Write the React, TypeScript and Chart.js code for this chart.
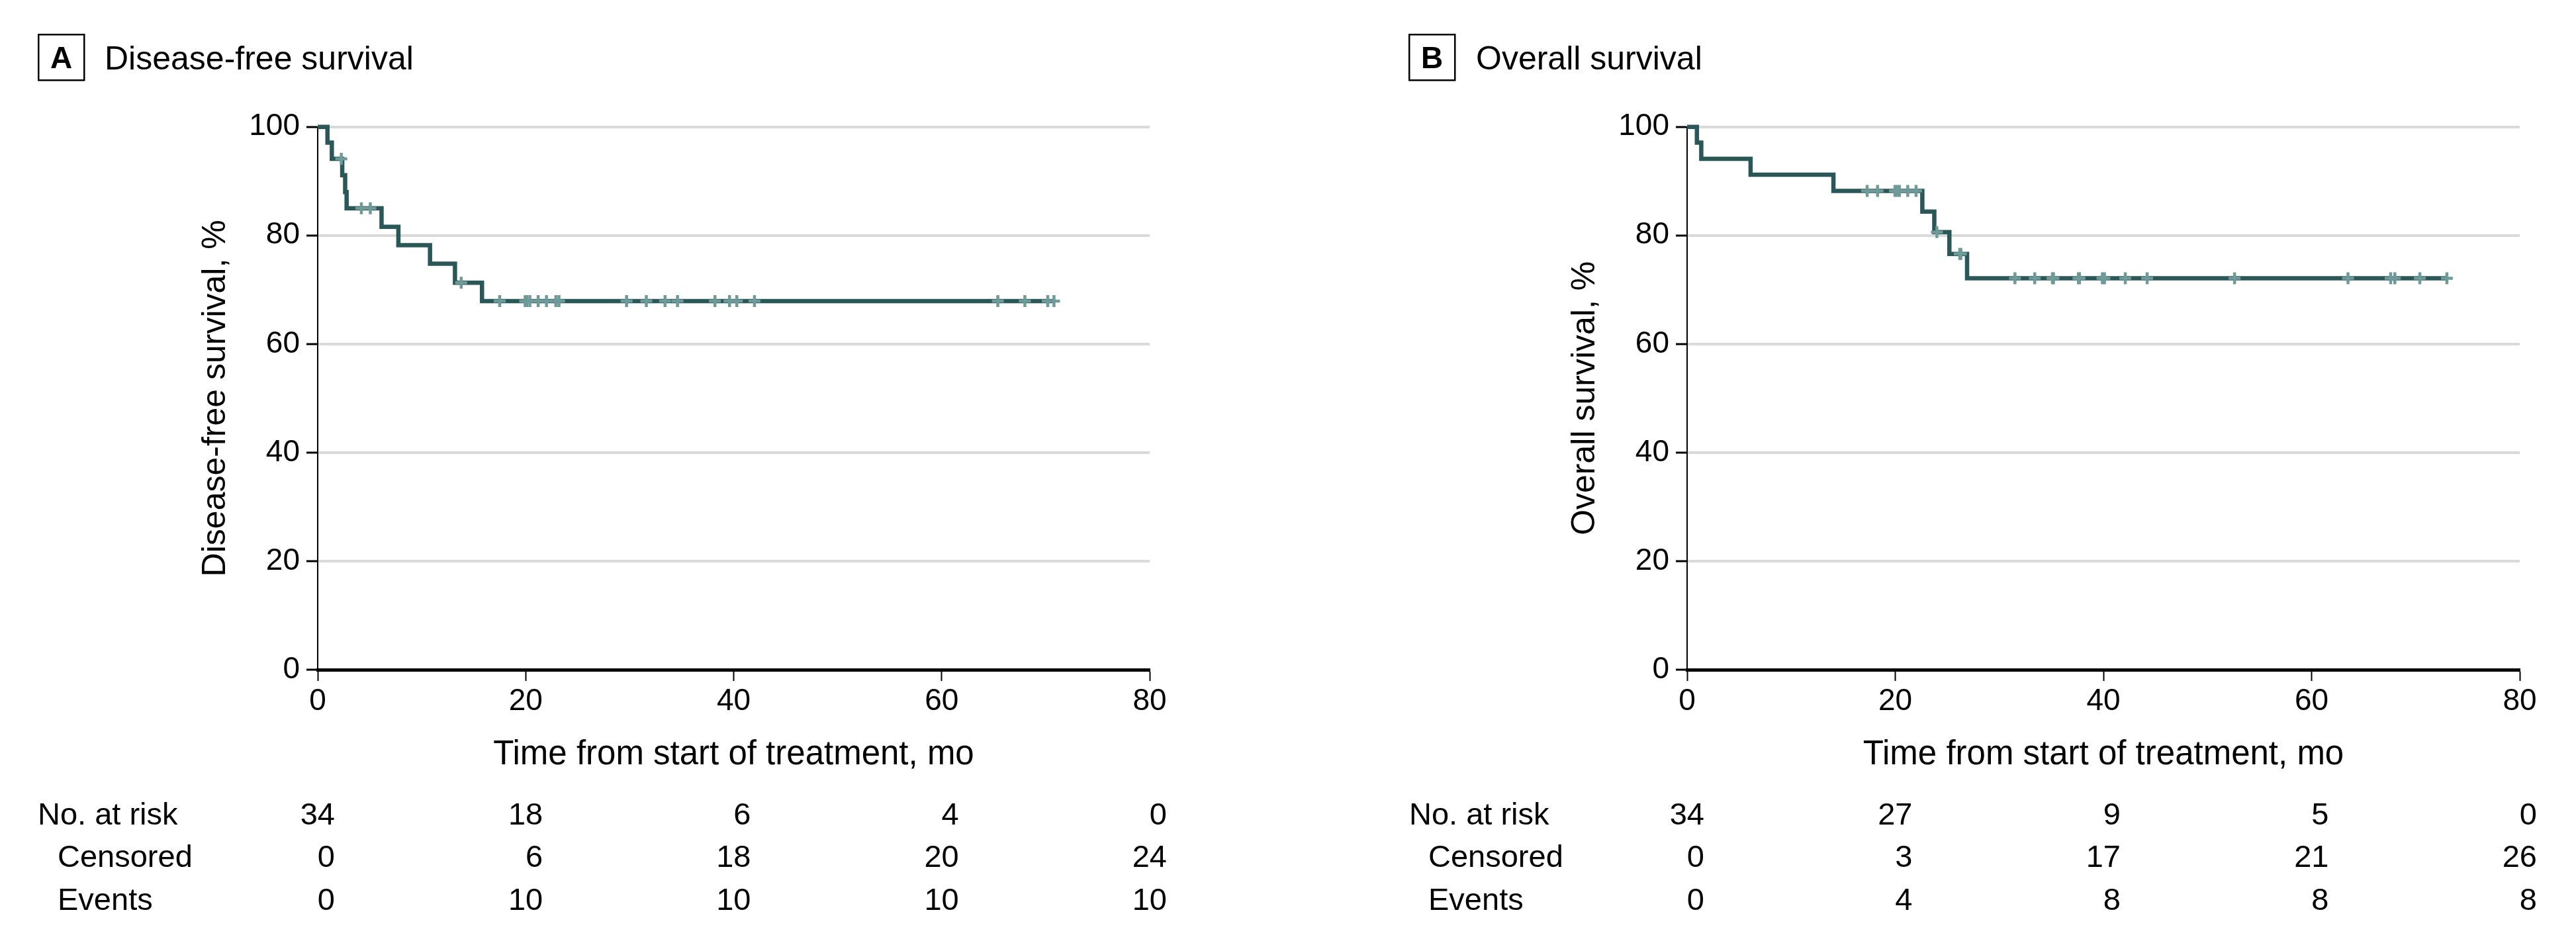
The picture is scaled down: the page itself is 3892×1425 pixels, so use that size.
import React, { useEffect, useRef } from "react";
import { Chart, registerables } from "chart.js";

Chart.register(...registerables);

// ---------- data ----------
const xTickValues = [0, 20, 40, 60, 80];
const yTickValues = [0, 20, 40, 60, 80, 100];
const riskTimes = [0, 20, 40, 60, 80];
const riskRowLabels = ["No. at risk", "Censored", "Events"];

// Panel A: disease-free survival
const eventTimesA = [0, 0.94, 1.36, 2.36, 2.64, 2.78, 6.14, 7.76, 10.8, 13.2, 15.8];
const survivalA = [100, 97.1, 94.1, 91.1, 88.0, 85.0, 81.6, 78.2, 74.8, 71.3, 67.9];
const censorTimesA = [
  2.27, 4.2, 5.06, 13.8, 17.5, 19.95, 20.1, 20.4, 21.2, 22.0, 22.9, 23.2, 29.7, 31.6,
  33.4, 34.6, 38.2, 39.6, 40.3, 42.0, 65.4, 68.0, 70.2, 70.8,
];
const lastFollowUpA = 70.8;
const atRiskA = [34, 18, 6, 4, 0];
const censoredA = [0, 6, 18, 20, 24];
const eventsA = [0, 10, 10, 10, 10];

// Panel B: overall survival
const eventTimesB = [0, 0.94, 1.36, 6.1, 14.06, 22.6, 23.75, 25.2, 26.9];
const survivalB = [100, 97.1, 94.1, 91.2, 88.2, 84.4, 80.6, 76.6, 72.1];
const censorTimesB = [
  17.3, 18.3, 19.97, 20.2, 20.4, 21.2, 22.0, 24.0, 26.2, 26.3, 31.5, 33.4, 35.1, 35.2,
  37.6, 37.7, 39.9, 40.1, 42.1, 44.2, 52.6, 63.5, 67.6, 68.0, 70.4, 73.0,
];
const lastFollowUpB = 73.0;
const atRiskB = [34, 27, 9, 5, 0];
const censoredB = [0, 3, 17, 21, 26];
const eventsB = [0, 4, 8, 8, 8];

// ---------- style ----------
const FONT = '"Liberation Sans", Arial, Helvetica, sans-serif';
const CURVE = "#2a5757";
const CENSOR = "#6f9a9a";
const GRID = "#d9d9d9";
const PANEL_W = 1946;
const PANEL_H = 1425;
const PLOT_TOP = 191.7;
const PLOT_BOTTOM = 1012;
const X_SCALE_H = 100;

type PanelProps = {
  offsetLeft: number;
  axisLeft: number;
  axisRight: number;
  boxLeft: number;
  titleLeft: number;
  yTitleX: number;
  riskLabelLeft: number;
  riskSubLeft: number;
  letter: string;
  title: string;
  yTitle: string;
  eventTimes: number[];
  survival: number[];
  censorTimes: number[];
  lastFollowUp: number;
  atRisk: number[];
  censored: number[];
  events: number[];
};

function Panel(p: PanelProps) {
  const ref = useRef<HTMLCanvasElement | null>(null);

  useEffect(() => {
    const canvas = ref.current;
    if (!canvas) return;

    const curve = p.eventTimes.map((t, i) => ({ x: t, y: p.survival[i] }));
    curve.push({ x: p.lastFollowUp, y: p.survival[p.survival.length - 1] });
    const levelAt = (t: number) => {
      let v = p.survival[0];
      for (let i = 0; i < p.eventTimes.length; i++) if (p.eventTimes[i] <= t) v = p.survival[i];
      return v;
    };
    const censorPts = p.censorTimes.map((t) => ({ x: t, y: levelAt(t) }));

    const textPlugin = {
      id: "panelText",
      afterDraw(chart: any) {
        const ctx = chart.ctx as CanvasRenderingContext2D;
        const area = chart.chartArea;
        const xs = chart.scales.x;
        ctx.save();
        ctx.fillStyle = "#000";
        ctx.strokeStyle = "#000";
        // letter box
        ctx.lineWidth = 2.5;
        ctx.strokeRect(p.boxLeft + 1.25, 52.25, 69, 69);
        ctx.font = `bold 46px ${FONT}`;
        ctx.textAlign = "center";
        ctx.textBaseline = "alphabetic";
        ctx.fillText(p.letter, p.boxLeft + 35.5, 103);
        // title
        ctx.font = `50px ${FONT}`;
        ctx.textAlign = "left";
        ctx.fillText(p.title, p.titleLeft, 105);
        // y title
        ctx.save();
        ctx.translate(p.yTitleX, (area.top + area.bottom) / 2);
        ctx.rotate(-Math.PI / 2);
        ctx.textAlign = "center";
        ctx.font = `50px ${FONT}`;
        ctx.fillText(p.yTitle, 0, 0);
        ctx.restore();
        // x title
        ctx.font = `51px ${FONT}`;
        ctx.textAlign = "center";
        ctx.fillText("Time from start of treatment, mo", (area.left + area.right) / 2, 1155);
        // risk table
        const rows = [p.atRisk, p.censored, p.events];
        const baselines = [1246, 1310, 1375];
        ctx.font = `47px ${FONT}`;
        rows.forEach((row, r) => {
          ctx.textAlign = "left";
          ctx.fillText(riskRowLabels[r], r === 0 ? p.riskLabelLeft : p.riskSubLeft, baselines[r]);
          ctx.textAlign = "right";
          row.forEach((v, i) => {
            ctx.fillText(String(v), xs.getPixelForValue(riskTimes[i]) + 26, baselines[r]);
          });
        });
        ctx.restore();
      },
    };

    const chart = new Chart(canvas, {
      type: "line",
      data: {
        datasets: [
          {
            data: censorPts,
            showLine: false,
            pointStyle: "cross",
            pointRadius: 9,
            pointHoverRadius: 9,
            pointBorderWidth: 4.5,
            pointBorderColor: CENSOR,
            pointBackgroundColor: CENSOR,
            order: 0,
            clip: false,
          } as any,
          {
            data: curve,
            stepped: "before",
            borderColor: CURVE,
            borderWidth: 6.5,
            pointRadius: 0,
            pointHoverRadius: 0,
            fill: false,
            order: 1,
            clip: false,
            borderJoinStyle: "miter",
            borderCapStyle: "butt",
          } as any,
        ],
      },
      options: {
        responsive: false,
        animation: false,
        devicePixelRatio: 1,
        events: [],
        layout: {
          padding: {
            left: 0,
            right: PANEL_W - p.axisRight,
            top: PLOT_TOP,
            bottom: PANEL_H - PLOT_BOTTOM - X_SCALE_H,
          },
        },
        plugins: {
          legend: { display: false },
          tooltip: { enabled: false },
          title: { display: false },
        },
        scales: {
          x: {
            type: "linear",
            min: 0,
            max: 80,
            afterBuildTicks: (s: any) => {
              s.ticks = xTickValues.map((v) => ({ value: v }));
            },
            ticks: {
              font: { family: FONT, size: 46 },
              color: "#000",
              padding: 4,
              maxRotation: 0,
              autoSkip: false,
            },
            grid: {
              drawOnChartArea: false,
              drawTicks: true,
              tickLength: 17,
              tickColor: "#000",
              tickWidth: 2,
            },
            border: { display: true, color: "#000", width: 5 },
            afterFit: (s: any) => {
              s.height = X_SCALE_H;
            },
          },
          y: {
            type: "linear",
            min: 0,
            max: 100,
            afterBuildTicks: (s: any) => {
              s.ticks = yTickValues.map((v) => ({ value: v }));
            },
            ticks: {
              font: { family: FONT, size: 46 },
              color: "#000",
              padding: 10,
              autoSkip: false,
            },
            grid: {
              color: (c: any) => (c.tick && c.tick.value === 0 ? "rgba(0,0,0,0)" : GRID),
              lineWidth: 4,
              drawTicks: true,
              tickLength: 17,
              tickColor: "#000",
              tickWidth: 3,
            },
            border: { display: true, color: "#000", width: 2 },
            afterFit: (s: any) => {
              s.width = p.axisLeft;
            },
          },
        },
      } as any,
      plugins: [textPlugin],
    });

    return () => chart.destroy();
  }, []);

  return (
    <canvas
      ref={ref}
      width={PANEL_W}
      height={PANEL_H}
      style={{ position: "absolute", left: p.offsetLeft, top: 0, display: "block" }}
    />
  );
}

export default function App() {
  return (
    <div
      style={{
        position: "fixed",
        left: 0,
        top: 0,
        width: 3892,
        height: 1425,
        background: "#fff",
        overflow: "hidden",
      }}
    >
      <Panel
        offsetLeft={0}
        axisLeft={480}
        axisRight={1737}
        boxLeft={57}
        titleLeft={158}
        yTitleX={340}
        riskLabelLeft={57}
        riskSubLeft={87}
        letter="A"
        title="Disease-free survival"
        yTitle="Disease-free survival, %"
        eventTimes={eventTimesA}
        survival={survivalA}
        censorTimes={censorTimesA}
        lastFollowUp={lastFollowUpA}
        atRisk={atRiskA}
        censored={censoredA}
        events={eventsA}
      />
      <Panel
        offsetLeft={1946}
        axisLeft={603}
        axisRight={1861}
        boxLeft={182}
        titleLeft={284}
        yTitleX={463}
        riskLabelLeft={183}
        riskSubLeft={212}
        letter="B"
        title="Overall survival"
        yTitle="Overall survival, %"
        eventTimes={eventTimesB}
        survival={survivalB}
        censorTimes={censorTimesB}
        lastFollowUp={lastFollowUpB}
        atRisk={atRiskB}
        censored={censoredB}
        events={eventsB}
      />
    </div>
  );
}
